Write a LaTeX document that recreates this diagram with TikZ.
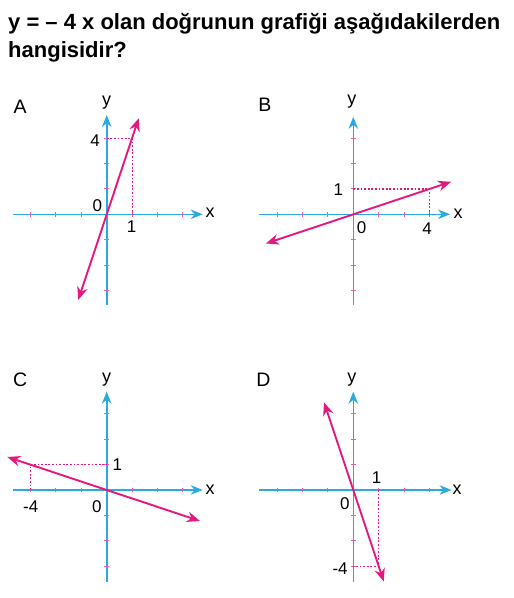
\documentclass[tikz,border=0pt]{standalone}
\usepackage{fontspec}
\setmainfont{Liberation Sans}
\usetikzlibrary{arrows.meta}
\definecolor{axcyan}{RGB}{41,171,226}
\definecolor{lnmag}{RGB}{228,25,128}
\tikzset{
  axisline/.style={axcyan, line width=1.6pt, -{Stealth[length=12pt,width=9.5pt]}},
  graphline/.style={lnmag, line width=1.9pt, {Stealth[length=13pt,width=10.5pt]}-{Stealth[length=13pt,width=10.5pt]}},
  guide/.style={lnmag, line width=1.2pt, dash pattern=on 1.8pt off 1.8pt},
  tickmark/.style={lnmag!70, line width=0.9pt},
  axlabel/.style={font=\fontsize{18}{18}\selectfont, inner sep=0pt},
  numlabel/.style={font=\fontsize{17}{17}\selectfont, inner sep=0pt},
  panellabel/.style={font=\fontsize{19.5}{19.5}\selectfont, inner sep=0pt},
  titletext/.style={font=\bfseries\fontsize{22}{22}\selectfont, inner sep=0pt, anchor=base west}
}
\newcommand{\myticks}{%
  \foreach \t in {-3,-2,-1,1,2,3} {
    \draw[tickmark] (\t,-0.09) -- (\t,0.09);
    \draw[tickmark] (-0.09,\t) -- (0.09,\t);
  }}
\begin{document}
\begin{tikzpicture}[x=1pt,y=-1pt]
\useasboundingbox (0,0) rectangle (514,598);
\node[titletext] (t1) at (8,29) {y = – 4 x olan doğrunun grafiği aşağıdakilerden};
\node[titletext] (t2) at (8,57.3) {hangisidir?};

% Panel A
\begin{scope}[shift={(106.7,214.3)}, x=25.4pt, y=25.4pt]
  \coordinate (Axl) at (-3.69,0); \coordinate (Axr) at (3.78,0);
  \coordinate (Ayb) at (0,-3.57); \coordinate (Ayt) at (0,3.91);
  \draw[axisline] (Axl) -- (Axr);
  \draw[axisline] (Ayb) -- (Ayt);
  \myticks
  \coordinate (Ay4) at (0,3); \coordinate (Ap) at (1,3); \coordinate (Ax1) at (1,0);
  \draw[guide] (Ay4) -- (Ap) -- (Ax1);
  \coordinate (Ala) at (-1.12,-3.37); \coordinate (Alb) at (1.26,3.78);
  \draw[graphline] (Ala) -- (Alb);
  \node[panellabel] (Alab) at (-3.41,4.24) {A};
  \node[axlabel] (Ay) at (0,4.39) {y};
  \node[axlabel] (Ax) at (4.07,0.05) {x};
  \node[numlabel] (A4) at (-0.46,2.9) {4};
  \node[numlabel] (A0) at (-0.37,0.33) {0};
  \node[numlabel] (A1) at (0.98,-0.49) {1};
\end{scope}

% Panel B
\begin{scope}[shift={(353.3,214.3)}, x=25.4pt, y=25.4pt]
  \coordinate (Bxl) at (-3.70,0); \coordinate (Bxr) at (3.81,0);
  \coordinate (Byb) at (0,-3.57); \coordinate (Byt) at (0,3.84);
  \draw[axisline] (Bxl) -- (Bxr);
  \draw[axisline] (Byb) -- (Byt);
  \myticks
  \coordinate (By1) at (0,1); \coordinate (Bp) at (3,1); \coordinate (Bx4) at (3,0);
  \draw[guide] (By1) -- (Bp) -- (Bx4);
  \coordinate (Bla) at (-3.44,-1.15); \coordinate (Blb) at (3.85,1.28);
  \draw[graphline] (Bla) -- (Blb);
  \node[panellabel] (Blab) at (-3.48,4.30) {B};
  \node[axlabel] (By) at (-0.06,4.43) {y};
  \node[axlabel] (Bx) at (4.13,0.04) {x};
  \node[numlabel] (B1) at (-0.59,0.98) {1};
  \node[numlabel] (B0) at (0.33,-0.52) {0};
  \node[numlabel] (B4) at (2.91,-0.55) {4};
\end{scope}

% Panel C
\begin{scope}[shift={(106.7,490)}, x=25.4pt, y=25.4pt]
  \coordinate (Cxl) at (-3.67,0); \coordinate (Cxr) at (3.78,0);
  \coordinate (Cyb) at (0,-3.61); \coordinate (Cyt) at (0,3.87);
  \draw[axisline] (Cxl) -- (Cxr);
  \draw[axisline] (Cyb) -- (Cyt);
  \myticks
  \coordinate (Cxm4) at (-3,0); \coordinate (Cp) at (-3,1); \coordinate (Cy1) at (0,1);
  \draw[guide] (Cxm4) -- (Cp) -- (Cy1);
  \coordinate (Cla) at (-3.91,1.30); \coordinate (Clb) at (3.67,-1.22);
  \draw[graphline] (Cla) -- (Clb);
  \node[panellabel] (Clab) at (-3.41,4.33) {C};
  \node[axlabel] (Cy) at (0,4.33) {y};
  \node[axlabel] (Cx) at (4.07,0.03) {x};
  \node[numlabel] (C1) at (0.42,1.01) {1};
  \node[numlabel] (Cm4) at (-2.99,-0.66) {-4};
  \node[numlabel] (C0) at (-0.39,-0.66) {0};
\end{scope}

% Panel D
\begin{scope}[shift={(353.3,490)}, x=25.4pt, y=25.4pt]
  \coordinate (Dxl) at (-3.70,0); \coordinate (Dxr) at (3.87,0);
  \coordinate (Dyb) at (0,-3.61); \coordinate (Dyt) at (0,3.87);
  \draw[axisline] (Dxl) -- (Dxr);
  \draw[axisline] (Dyb) -- (Dyt);
  \myticks
  \coordinate (Dx1) at (1,0); \coordinate (Dp) at (1,-3); \coordinate (Dym4) at (0,-3);
  \draw[guide] (Dx1) -- (Dp) -- (Dym4);
  \coordinate (Dla) at (-1.15,3.45); \coordinate (Dlb) at (1.2,-3.6);
  \draw[graphline] (Dla) -- (Dlb);
  \node[panellabel] (Dlab) at (-3.54,4.33) {D};
  \node[axlabel] (Dy) at (-0.06,4.33) {y};
  \node[axlabel] (Dx) at (4.09,0.03) {x};
  \node[numlabel] (D1) at (0.92,0.5) {1};
  \node[numlabel] (Dm4) at (-0.52,-3.08) {-4};
  \node[numlabel] (D0) at (-0.33,-0.55) {0};
\end{scope}
\end{tikzpicture}
\end{document}
